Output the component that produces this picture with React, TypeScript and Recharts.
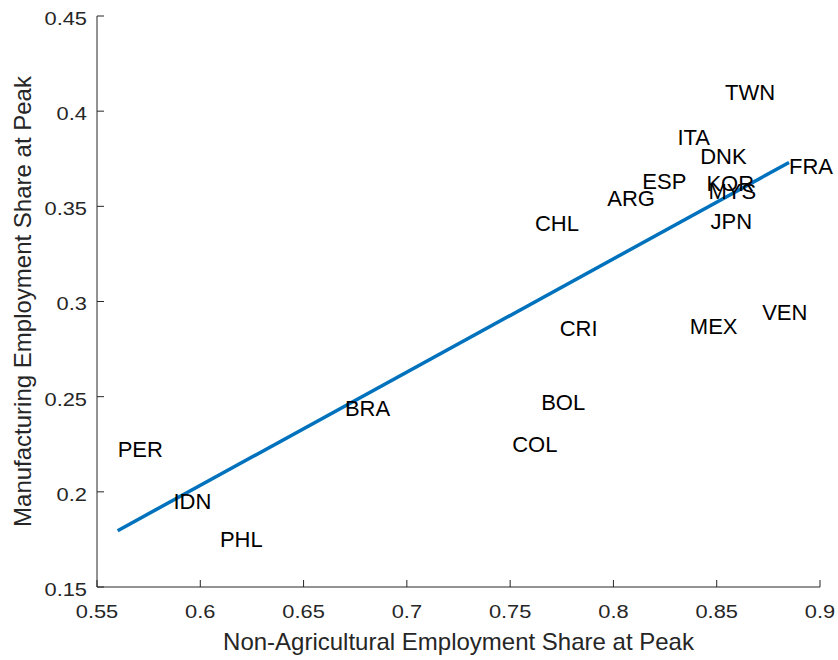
import React from 'react'
import { ScatterChart, Scatter, XAxis, YAxis } from 'recharts'

const countries = ['TWN', 'ITA', 'DNK', 'FRA', 'ESP', 'KOR', 'MYS', 'ARG', 'CHL', 'JPN', 'CRI', 'MEX', 'VEN', 'BRA', 'BOL', 'COL', 'PER', 'IDN', 'PHL']
const nonAgShare = [0.854, 0.831, 0.842, 0.885, 0.814, 0.845, 0.846, 0.797, 0.762, 0.847, 0.774, 0.837, 0.872, 0.670, 0.765, 0.751, 0.560, 0.587, 0.6095]
const mfgShare = [0.410, 0.386, 0.376, 0.371, 0.363, 0.362, 0.358, 0.354, 0.341, 0.342, 0.286, 0.287, 0.294, 0.244, 0.247, 0.225, 0.222, 0.195, 0.175]

// fitted line endpoints
const fitX = [0.56, 0.885]
const fitY = [0.1796, 0.373]

const xTicks = [0.55, 0.6, 0.65, 0.7, 0.75, 0.8, 0.85, 0.9]
const yTicks = [0.15, 0.2, 0.25, 0.3, 0.35, 0.4, 0.45]

const FONT = '"Liberation Sans", Arial, Helvetica, sans-serif'
const AXIS_COLOR = '#262626'
const LINE_BLUE = '#0072BD'

const labelData = countries.map((c, i) => ({ x: nonAgShare[i], y: mfgShare[i], name: c }))
const fitData = fitX.map((x, i) => ({ x, y: fitY[i] }))

const XTick = (props: any) => {
  const { x, y, payload } = props
  return (
    <g>
      <line x1={x} y1={y} x2={x} y2={y - 7} stroke={AXIS_COLOR} strokeWidth={1} />
      <text
        transform={`translate(${x}, ${y + 24}) scale(1.15, 1)`}
        textAnchor="middle"
        dominantBaseline="central"
        fill={AXIS_COLOR}
        fontSize={19}
        fontFamily={FONT}
      >
        {String(payload.value)}
      </text>
    </g>
  )
}

const YTick = (props: any) => {
  const { x, y, payload } = props
  return (
    <g>
      <line x1={x} y1={y} x2={x + 7} y2={y} stroke={AXIS_COLOR} strokeWidth={1} />
      <text
        transform={`translate(${x - 10}, ${y + 2}) scale(1.15, 1)`}
        textAnchor="end"
        dominantBaseline="central"
        fill={AXIS_COLOR}
        fontSize={19}
        fontFamily={FONT}
      >
        {String(payload.value)}
      </text>
    </g>
  )
}

const CountryLabel = (props: any) => {
  const { cx, cy, payload } = props
  return (
    <text x={cx} y={cy} textAnchor="start" dominantBaseline="central" fill="#000" fontSize={22} fontFamily={FONT}>
      {payload.name}
    </text>
  )
}

const XTitle = (props: any) => {
  const { viewBox } = props
  const cx = viewBox.x + viewBox.width / 2
  return (
    <text x={cx} y={641} textAnchor="middle" dominantBaseline="central" fill={AXIS_COLOR} fontSize={24} fontFamily={FONT}>
      Non-Agricultural Employment Share at Peak
    </text>
  )
}

const YTitle = (props: any) => {
  const { viewBox } = props
  const cy = viewBox.y + viewBox.height / 2
  return (
    <text x={22} y={cy} transform={`rotate(-90, 22, ${cy})`} textAnchor="middle" dominantBaseline="central" fill={AXIS_COLOR} fontSize={24} fontFamily={FONT}>
      Manufacturing Employment Share at Peak
    </text>
  )
}

export default function App() {
  return (
    <div style={{ position: 'absolute', left: 0, top: 0, background: '#fff' }}>
      <ScatterChart width={838} height={660} margin={{ top: 16, right: 18, bottom: 0, left: 0 }} style={{ overflow: 'visible' }}>
        <XAxis
          type="number"
          dataKey="x"
          domain={[0.55, 0.9]}
          ticks={xTicks}
          height={73}
          stroke={AXIS_COLOR}
          tickLine={false}
          tickSize={0}
          tickMargin={0}
          tick={<XTick />}
          interval={0}
          label={<XTitle />}
        />
        <YAxis
          type="number"
          dataKey="y"
          domain={[0.15, 0.45]}
          ticks={yTicks}
          width={97}
          stroke={AXIS_COLOR}
          tickLine={false}
          tickSize={0}
          tickMargin={0}
          tick={<YTick />}
          interval={0}
          label={<YTitle />}
        />
        <Scatter
          data={fitData}
          line={{ stroke: LINE_BLUE, strokeWidth: 3.5 }}
          shape={() => <g />}
          isAnimationActive={false}
        />
        <Scatter data={labelData} shape={<CountryLabel />} isAnimationActive={false} />
      </ScatterChart>
    </div>
  )
}
